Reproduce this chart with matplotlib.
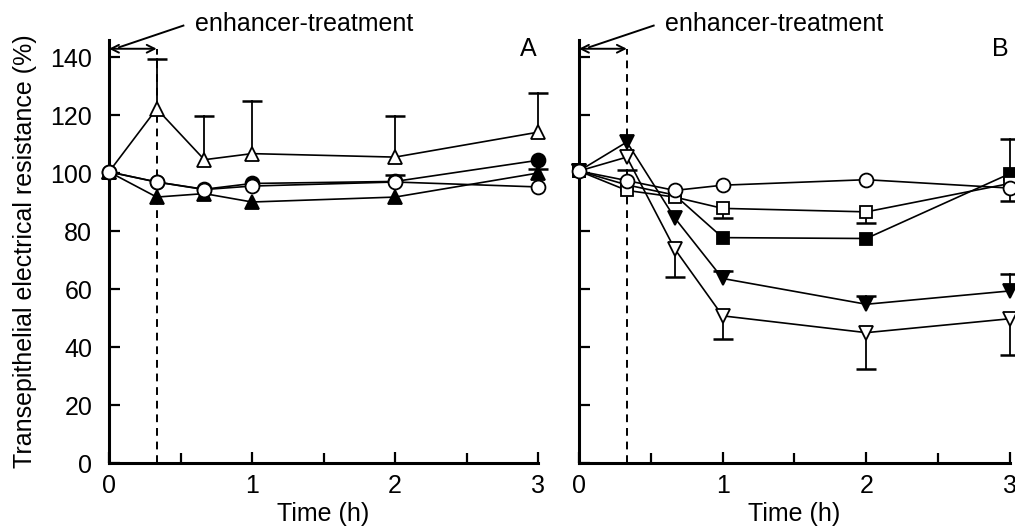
import matplotlib
matplotlib.use('Agg')
from matplotlib import pyplot as plt
from matplotlib.ticker import MultipleLocator

plt.rcParams['font.family'] = ['Liberation Sans', 'DejaVu Sans']
plt.rcParams['font.size'] = 18

time_h = [0, 1/3, 2/3, 1, 2, 3]
treat_end = 1/3
y_ticks = [0, 20, 40, 60, 80, 100, 120, 140]
x_ticks = [0, 1, 2, 3]

# panel A
a_open_tri = [100.5, 122.3, 104.7, 106.8, 105.6, 114.2]
a_open_tri_up = [0, 17.2, 15, 18.1, 14.1, 13.5]
a_filled_tri = [100.5, 91.8, 93.0, 90.1, 91.8, 100.1]
a_filled_tri_up = [0, 0, 0, 0, 0, 1.5]
a_filled_circ = [100.5, 97.0, 94.5, 96.5, 97.2, 104.5]
a_open_circ = [100.5, 97.0, 94.4, 95.6, 97.0, 95.3]
a_open_circ_up = [0, 0, 0, 0, 2.3, 0]

# panel B
b_open_circ = [100.8, 97.5, 94.1, 95.9, 97.8, 94.9]
b_open_circ_up = [0, 3.5, 0, 0, 0, 0]
b_open_circ_dn = [0, 0, 0, 0, 0, 4.5]
b_open_sq = [100.8, 94.1, 91.8, 87.9, 86.7, 96.5]
b_open_sq_dn = [0, 0, 0, 3.2, 3.7, 0]
b_filled_sq = [100.8, 96.0, 92.5, 77.8, 77.5, 99.9]
b_filled_sq_up = [0, 0, 0, 0, 0, 12]
b_filled_vtri = [100.8, 110.8, 84.6, 63.7, 54.8, 59.4]
b_filled_vtri_up = [0, 0, 0, 2.6, 2.8, 5.7]
b_open_vtri = [100.8, 105.6, 73.9, 50.8, 45.0, 49.8]
b_open_vtri_dn = [0, 0, 9.7, 8.0, 12.7, 12.6]


def one_sided(ax, y, err, sign):
    # single sided error bar with a cap only at the far end
    for t, v, e in zip(time_h, y, err):
        if e <= 0:
            continue
        end = v + sign * e
        ax.plot([t, t], [v, end], color='black', lw=1.3, clip_on=False,
                zorder=2)
        ax.plot([t], [end], marker='_', ms=14, mew=1.8, color='black',
                clip_on=False, zorder=2)


def series(ax, y, marker, filled, up=None, dn=None, ms=10):
    if up:
        one_sided(ax, y, up, 1)
    if dn:
        one_sided(ax, y, dn, -1)
    ax.plot(time_h, y, color='black', lw=1.2, marker=marker, ms=ms,
            mfc='black' if filled else 'white', mec='black', mew=1.3,
            clip_on=False, zorder=3)


def setup(ax, label, show_ylabels):
    ax.set_xlim(0, 3)
    ax.set_ylim(0, 146)
    for s in ['top', 'right']:
        ax.spines[s].set_visible(False)
    for s in ['left', 'bottom']:
        ax.spines[s].set_linewidth(2.2)
    ax.set_xticks(x_ticks)
    ax.xaxis.set_minor_locator(MultipleLocator(0.5))
    ax.set_yticks(y_ticks)
    ax.tick_params(which='major', direction='in', length=8, width=1.6, pad=8)
    ax.tick_params(which='minor', direction='in', length=7, width=1.6)
    ax.tick_params(axis='y', pad=12)
    if not show_ylabels:
        ax.set_yticklabels([])
    ax.set_xlabel('Time (h)', labelpad=3)
    ax.text(2.93, 143, label, ha='center', va='center')

    # enhancer treatment marker
    ax.plot([treat_end, treat_end], [0, 143], color='black', lw=1.4,
            dashes=(4, 3), clip_on=False)
    ax.annotate('', xy=(0, 143), xytext=(treat_end, 143),
                arrowprops=dict(arrowstyle='<->', lw=1.4, color='black',
                                shrinkA=0, shrinkB=0, mutation_scale=14),
                annotation_clip=False)
    ax.plot([0.52, 0.07], [151, 143.5], color='black', lw=1.4, clip_on=False)
    ax.text(0.6, 151.5, 'enhancer-treatment', ha='left', va='center',
            clip_on=False)


fig = plt.figure(figsize=(10.15, 5.3), dpi=100, facecolor='white')
ax1 = fig.add_axes([0.1074, 0.1264, 0.4227, 0.798])
ax2 = fig.add_axes([0.5704, 0.1264, 0.4246, 0.798])

setup(ax1, 'A', True)
ax1.set_ylabel('Transepithelial electrical resistance (%)', labelpad=10)
series(ax1, a_open_tri, '^', False, up=a_open_tri_up)
series(ax1, a_filled_tri, '^', True, up=a_filled_tri_up)
series(ax1, a_filled_circ, 'o', True)
series(ax1, a_open_circ, 'o', False, up=a_open_circ_up)

setup(ax2, 'B', False)
series(ax2, b_filled_vtri, 'v', True, up=b_filled_vtri_up)
series(ax2, b_open_vtri, 'v', False, dn=b_open_vtri_dn)
series(ax2, b_filled_sq, 's', True, up=b_filled_sq_up, ms=9)
series(ax2, b_open_sq, 's', False, dn=b_open_sq_dn, ms=9)
series(ax2, b_open_circ, 'o', False, up=b_open_circ_up, dn=b_open_circ_dn)

fig.savefig('out.png', dpi=100, facecolor='white')
